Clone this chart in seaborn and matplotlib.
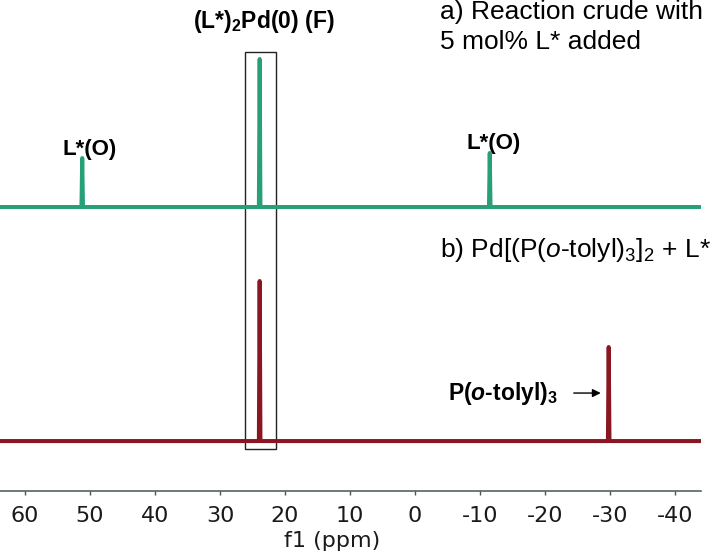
import pandas as pd
import matplotlib.pyplot as plt
import seaborn as sns
from matplotlib.patches import Rectangle

# 31P spectra: (ppm, intensity) points along each trace
crude_ppm = [63.85, 51.32, 51.2, 51.08, 24.02, 23.9, 23.78, -11.38, -11.5, -11.62, -43.9]
crude_int = [0, 0, 0.98, 0, 0, 2.96, 0, 0, 1.08, 0, 0]
crude_offset = 4.68

mix_ppm = [63.85, 24.02, 23.9, 23.78, -29.68, -29.8, -29.92, -44.0]
mix_int = [0, 0, 3.2, 0, 0, 1.88, 0, 0]

xticks = [60, 50, 40, 30, 20, 10, 0, -10, -20, -30, -40]

green = '#27a07a'
darkred = '#8a1622'
axis_col = '#44594f'

sns.set_style('white')
plt.rcParams['font.family'] = ['DejaVu Sans']
plt.rcParams['mathtext.fontset'] = 'custom'
plt.rcParams['mathtext.rm'] = 'Liberation Sans'
plt.rcParams['mathtext.it'] = 'Liberation Sans:italic'
plt.rcParams['mathtext.bf'] = 'Liberation Sans:bold'
plt.rcParams['mathtext.bfit'] = 'Liberation Sans:italic:bold'

df = pd.concat([
    pd.DataFrame({'ppm': crude_ppm, 'intensity': [v + crude_offset for v in crude_int], 'trace': 'a'}),
    pd.DataFrame({'ppm': mix_ppm, 'intensity': mix_int, 'trace': 'b'}),
])

fig = plt.figure(figsize=(7.15, 5.53), dpi=100)
ax = fig.add_axes([0, 0.112, 0.9804, 0.888])
sns.lineplot(data=df, x='ppm', y='intensity', hue='trace', palette={'a': green, 'b': darkred},
             estimator=None, sort=False, legend=False, linewidth=2.9, ax=ax)

ax.set_xlim(63.85, -44.0)
ax.set_ylim(-1.0, 8.82)
ax.set_xticks(xticks)
ax.set_xticklabels([str(t) for t in xticks])
ax.set_yticks([])
ax.set_ylabel('')
for s in ['left', 'right', 'top']:
    ax.spines[s].set_visible(False)
ax.spines['bottom'].set_color(axis_col)
ax.spines['bottom'].set_linewidth(1.1)
ax.tick_params(axis='x', direction='out', length=3, width=1, color=axis_col,
               labelsize=16, labelcolor='#1a1a1a', pad=8, bottom=True)
ax.set_xlabel('f1 (ppm)', fontsize=16, color='#1a1a1a', x=0.474, labelpad=3)

# box around the (L*)2Pd(0) peak
ax.add_patch(Rectangle((21.4, -0.16), 26.15 - 21.4, 7.78 + 0.16, fill=False,
                       edgecolor='#222222', linewidth=1.0))

lab = dict(family='Liberation Sans', color='black')
ax.text(23.2, 8.4, r'(L*)$_\mathbf{2}$Pd(0) (F)', fontsize=16.5, fontweight='bold',
        ha='center', va='center', **lab)
ax.text(50.0, 5.84, 'L*(O)', fontsize=16, fontweight='bold', ha='center', va='center', **lab)
ax.text(-12.15, 5.96, 'L*(O)', fontsize=16, fontweight='bold', ha='center', va='center', **lab)
ax.text(-3.85, 8.58, 'a) Reaction crude with', fontsize=19, ha='left', va='center', **lab)
ax.text(-3.85, 7.98, '5 mol% L* added', fontsize=19, ha='left', va='center', **lab)
ax.text(-3.85, 3.82, r'b) Pd[(P($\mathit{o}$-tolyl)$_3$]$_2$ + L*', fontsize=19,
        ha='left', va='center', **lab)
ax.text(-5.08, 0.96, r'P($\mathbfit{o}$-tolyl)$_\mathbf{3}$', fontsize=16.5, fontweight='bold',
        ha='left', va='center', **lab)
ax.annotate('', xy=(-29.0, 0.96), xytext=(-24.0, 0.96),
            arrowprops=dict(arrowstyle='-|>', color='black', lw=1.0, mutation_scale=12))

fig.savefig('out.png', dpi=100)
